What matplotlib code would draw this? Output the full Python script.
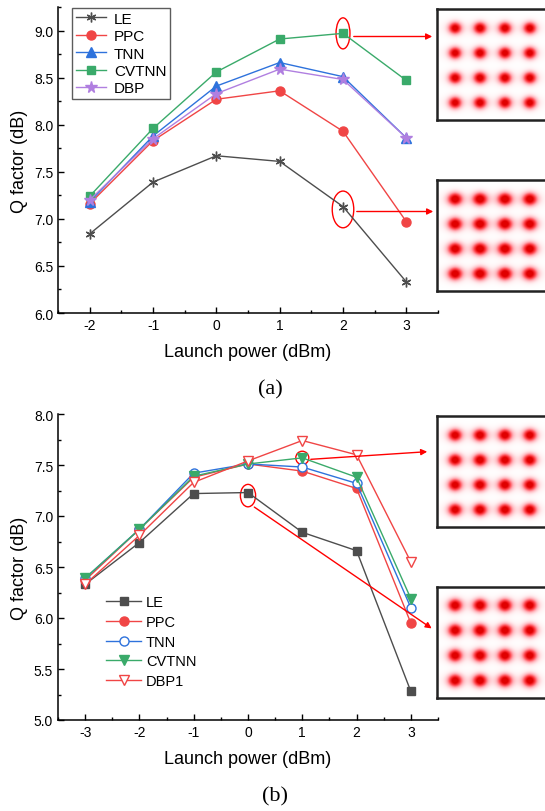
import numpy as np
import matplotlib
matplotlib.use("Agg")
import matplotlib.pyplot as plt
from matplotlib.patches import Ellipse
from matplotlib.colors import LinearSegmentedColormap

plt.rcParams['font.family'] = ['Liberation Sans', 'DejaVu Sans']

W, H = 545, 812

# ---------------- data (a) ----------------
power_a = [-2, -1, 0, 1, 2, 3]
le_a    = [6.84, 7.39, 7.67, 7.61, 7.13, 6.33]
ppc_a   = [7.16, 7.83, 8.27, 8.36, 7.93, 6.97]
tnn_a   = [7.18, 7.88, 8.41, 8.66, 8.51, 7.86]
cvtnn_a = [7.24, 7.96, 8.56, 8.91, 8.97, 8.47]
dbp_a   = [7.20, 7.85, 8.33, 8.59, 8.48, 7.86]

# ---------------- data (b) ----------------
power_b = [-3, -2, -1, 0, 1, 2, 3]
le_b    = [6.33, 6.74, 7.22, 7.23, 6.84, 6.66, 5.28]
ppc_b   = [6.37, 6.87, 7.38, 7.51, 7.44, 7.27, 5.95]
tnn_b   = [6.39, 6.87, 7.42, 7.51, 7.48, 7.32, 6.10]
cvtnn_b = [6.39, 6.87, 7.39, 7.51, 7.57, 7.38, 6.19]
dbp1_b  = [6.33, 6.81, 7.33, 7.54, 7.74, 7.60, 6.55]

# constellation grid (16QAM-like 4x4)
const_levels = [-3, -1, 1, 3]

C_LE = '#4d4d4d'
C_PPC = '#f04545'
C_TNN = '#2e72dc'
C_CV = '#3aaa6a'
C_DBP = '#b07fe0'


def fr(x, y):
    """pixel (top-left origin) -> figure fraction"""
    return (x / W, 1 - y / H)


def axes_px(fig, l, t, r, b):
    return fig.add_axes([l / W, 1 - b / H, (r - l) / W, (b - t) / H])


fig = plt.figure(figsize=(W / 100, H / 100), dpi=100)

ms = 6.5
lw = 1.0


def style(ax, xlim, ylim, yticks, ymin_step):
    ax.set_xlim(*xlim)
    ax.set_ylim(*ylim)
    ax.spines['top'].set_visible(False)
    ax.spines['right'].set_visible(False)
    for s in ('left', 'bottom'):
        ax.spines[s].set_linewidth(1.1)
    ax.set_yticks(yticks)
    ax.set_yticks(np.arange(ylim[0], ylim[1] + 1e-9, ymin_step), minor=True)
    ax.set_xticks(np.arange(np.ceil(xlim[0]), xlim[1] + 1e-9, 1))
    ax.set_xticks(np.arange(xlim[0], xlim[1] + 1e-9, 0.5), minor=True)
    ax.tick_params(direction='in', length=4, width=1, labelsize=10)
    ax.tick_params(which='minor', direction='in', length=2.5, width=1)
    ax.set_xticklabels([str(int(v)) for v in ax.get_xticks()])
    ax.set_yticklabels(['%.1f' % v for v in yticks])
    ax.set_ylabel('Q factor (dB)', fontsize=13)
    ax.set_xlabel('Launch power (dBm)', fontsize=13, labelpad=8)


# ---------------- panel (a) ----------------
ax1 = axes_px(fig, 58, 8, 438, 314)
ax1.plot(power_a, le_a, '-', color=C_LE, marker=(6, 2, 0), ms=7, lw=lw, mew=1.0, label='LE')
ax1.plot(power_a, ppc_a, '-', color=C_PPC, marker='o', ms=ms, lw=lw, label='PPC')
ax1.plot(power_a, tnn_a, '-', color=C_TNN, marker='^', ms=ms + 0.5, lw=lw, label='TNN')
ax1.plot(power_a, cvtnn_a, '-', color=C_CV, marker='s', ms=ms - 0.5, lw=lw, label='CVTNN')
ax1.plot(power_a, dbp_a, '-', color=C_DBP, marker='*', ms=ms + 2, lw=lw, label='DBP')
style(ax1, (-2.5, 3.5), (6.0, 9.25), np.arange(6.0, 9.01, 0.5), 0.25)
leg = ax1.legend(loc='upper left', bbox_to_anchor=fr(72, 9), bbox_transform=fig.transFigure,
                 fontsize=11, frameon=True, fancybox=False, edgecolor='#333333',
                 handlelength=2.0, handletextpad=0.5, labelspacing=0.22,
                 borderpad=0.25, borderaxespad=0)
leg.get_frame().set_linewidth(1.0)

# ellipses (a)
ax1.add_patch(Ellipse((2, 8.97), 0.22, 0.33, fill=False, ec='red', lw=1.0))
ax1.add_patch(Ellipse((2, 7.10), 0.34, 0.39, fill=False, ec='red', lw=1.0))

# ---------------- panel (b) ----------------
ax2 = axes_px(fig, 58, 415, 438, 721)
ax2.plot(power_b, le_b, '-', color=C_LE, marker='s', ms=ms - 0.5, lw=lw, label='LE')
ax2.plot(power_b, ppc_b, '-', color=C_PPC, marker='o', ms=ms, lw=lw, label='PPC')
ax2.plot(power_b, tnn_b, '-', color=C_TNN, marker='o', ms=ms, lw=lw, mfc='white', label='TNN')
ax2.plot(power_b, cvtnn_b, '-', color=C_CV, marker='v', ms=ms + 0.5, lw=lw, label='CVTNN')
ax2.plot(power_b, dbp1_b, '-', color=C_PPC, marker='v', ms=ms + 1, lw=lw, mfc='white', label='DBP1')
style(ax2, (-3.5, 3.5), (5.0, 8.0), np.arange(5.0, 8.01, 0.5), 0.25)
ax2.legend(loc='upper left', bbox_to_anchor=fr(106, 596), bbox_transform=fig.transFigure,
           fontsize=10.5, frameon=False, handlelength=2.4, handletextpad=0.35,
           labelspacing=0.4, borderpad=0, borderaxespad=0)

ax2.add_patch(Ellipse((1, 7.57), 0.24, 0.13, fill=False, ec='red', lw=1.0))
ax2.add_patch(Ellipse((0, 7.20), 0.28, 0.22, fill=False, ec='red', lw=1.0))

# ---------------- arrows ----------------
def arrow(x0, y0, x1, y1):
    fig.add_artist(matplotlib.patches.FancyArrowPatch(
        fr(x0, y0), fr(x1, y1), transform=fig.transFigure,
        arrowstyle='-|>', mutation_scale=9, color='red', lw=1.0))

arrow(351, 37.5, 435, 37.5)
arrow(354, 212.5, 436, 212.5)
arrow(308, 460.5, 430, 452.5)
arrow(252, 506.5, 434, 631)

# ---------------- constellation insets ----------------
cmap = LinearSegmentedColormap.from_list(
    'rw', [(0.0, '#ffffff'), (0.1, '#ffeef0'), (0.35, '#ffb3bb'),
           (0.7, '#ff4048'), (1.0, '#e00000')])


def constellation(l, t, sx, sy, tail):
    axi = axes_px(fig, l, t, l + 120, t + 111)
    xs = np.linspace(-4.44, 5.16, 400)
    ys = np.linspace(-4.38, 4.52, 300)
    X, Y = np.meshgrid(xs, ys)
    Z = np.zeros_like(X)
    for cx in const_levels:
        for cy in const_levels:
            dx = X - cx
            dy = Y - cy
            Z += np.exp(-(dx ** 2) / (2 * sx ** 2) - (dy ** 2) / (2 * sy ** 2))
            # faint horizontal smear
            Z += tail * np.exp(-(dy ** 2) / (2 * (sy * 1.2) ** 2)) * np.exp(-np.abs(dx) / 0.9)
    axi.imshow(Z, extent=(xs[0], xs[-1], ys[0], ys[-1]), origin='lower', cmap=cmap,
               vmin=0, vmax=1.0, aspect='auto', interpolation='bilinear')
    axi.set_xticks([])
    axi.set_yticks([])
    for s in axi.spines.values():
        s.set_linewidth(1.8)
        s.set_color('#222222')
    return axi

constellation(437, 10, 0.36, 0.33, 0.14)
constellation(437, 181, 0.40, 0.35, 0.20)
constellation(437, 417, 0.38, 0.34, 0.17)
constellation(437, 588, 0.39, 0.35, 0.18)

# ---------------- captions ----------------
fig.text(*fr(270, 390), '(a)', fontsize=16, family=['Liberation Serif', 'DejaVu Serif'], ha='center', va='center')
fig.text(*fr(275, 797), '(b)', fontsize=16, family=['Liberation Serif', 'DejaVu Serif'], ha='center', va='center')

fig.savefig('out.png', dpi=100)
